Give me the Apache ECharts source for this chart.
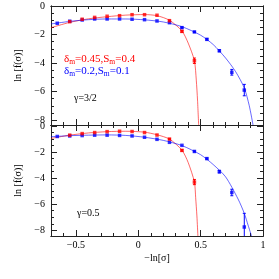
<!DOCTYPE html>
<html><head><meta charset="utf-8">
<script src="https://cdn.jsdelivr.net/npm/echarts@6/dist/echarts.min.js"></script>
<style>html,body{margin:0;padding:0;background:#fff}#c{width:279px;height:279px}</style>
</head><body><div id="c"></div>
<script>
// ---- data ----
const xBlue = [-0.65,-0.55,-0.45,-0.35,-0.25,-0.15,-0.05,0.05,0.15,0.25,0.35,0.45,0.55,0.65,0.75,0.85];
const xRed  = [-0.55,-0.45,-0.35,-0.25,-0.15,-0.05,0.05,0.15,0.25,0.35,0.45];

// top panel (gamma = 3/2)
const topBlue    = [-1.21,-1.07,-0.98,-0.91,-0.91,-0.91,-0.93,-0.96,-1.05,-1.17,-1.52,-1.82,-2.34,-3.14,-4.65,-5.9];
const topBlueErr = [0,0,0,0,0,0,0,0,0,0,0.04,0.04,0.05,0.07,0.2,0.4];
const topRed     = [-1.1,-0.93,-0.8,-0.72,-0.68,-0.61,-0.61,-0.65,-1.03,-1.78,-3.84];
const topRedErr  = [0,0,0,0,0,0,0,0,0.03,0.06,0.19];
const topRedFitX  = [-0.7,-0.55,-0.4,-0.25,-0.1,0.05,0.15,0.25,0.35,0.4,0.45,0.465,0.475,0.484];
const topRedFitY  = [-1.52,-1.15,-0.9,-0.75,-0.64,-0.6,-0.68,-1.0,-1.75,-2.6,-3.84,-5.2,-6.6,-8.35];
const topBlueFitX = [-0.7,-0.55,-0.4,-0.25,-0.1,0.05,0.2,0.35,0.5,0.6,0.7,0.78,0.85,0.89,0.92];
const topBlueFitY = [-1.26,-1.08,-0.96,-0.91,-0.91,-0.97,-1.12,-1.45,-2.05,-2.7,-3.65,-4.6,-5.75,-7.0,-8.35];

// bottom panel (gamma = 0.5)
const botBlue    = [-0.8,-0.76,-0.73,-0.7,-0.7,-0.72,-0.76,-0.86,-1.02,-1.25,-1.48,-1.95,-2.5,-3.5,-5.1,-7.75];
const botBlueErr = [0,0,0,0,0,0,0,0,0,0,0,0.04,0.05,0.1,0.25,1.05];
const botRed     = [-0.7,-0.58,-0.5,-0.43,-0.4,-0.42,-0.5,-0.69,-1.0,-1.87,-4.3];
const botRedErr  = [0,0,0,0,0,0,0,0,0.03,0.06,0.2];
const botRedFitX  = [-0.7,-0.55,-0.4,-0.25,-0.1,0.05,0.15,0.25,0.35,0.4,0.45,0.46,0.47,0.478];
const botRedFitY  = [-0.95,-0.7,-0.53,-0.43,-0.4,-0.47,-0.67,-1.0,-1.85,-2.8,-4.3,-5.5,-6.9,-8.44];
const botBlueFitX = [-0.7,-0.55,-0.4,-0.25,-0.1,0.05,0.2,0.35,0.5,0.6,0.7,0.8,0.85,0.88,0.908];
const botBlueFitY = [-0.82,-0.74,-0.7,-0.68,-0.72,-0.86,-1.1,-1.5,-2.2,-2.95,-3.9,-5.6,-6.7,-7.6,-8.44];

// ticks
const xMajor = [-0.5,0,0.5,1];
const xMinor = [-0.6,-0.5,-0.4,-0.3,-0.2,-0.1,0,0.1,0.2,0.3,0.4,0.5,0.6,0.7,0.8,0.9];
const yMajor = [-8,-6,-4,-2,0];
const yMinor = [-8,-7.5,-7,-6.5,-6,-5.5,-5,-4.5,-4,-3.5,-3,-2.5,-2,-1.5,-1,-0.5,0];

// ---- chart ----
const FONT = 'Liberation Serif';
const AX = '#222';
const RED = '#ff0000', BLUE = '#0000ff';
const minus = v => String(v).replace('-', '\u2212');

const grids = [
  {left:51, width:212, top:6, height:119, ymin:-8.35, ymax:0},
  {left:51, width:212, top:125, height:111, ymin:-8.44, ymax:0.08}
];

const xAxes = [], yAxes = [];
grids.forEach((g, gi) => {
  const isBottom = gi === 1;
  const baseX = {gridIndex:gi, type:'value', min:-0.7, max:1, splitLine:{show:false},
    axisLine:{show:true, onZero:false, lineStyle:{color:AX, width:1}}};
  xAxes.push(Object.assign({}, baseX, {position:'bottom',
    axisTick:{show:true, inside:true, length:6, customValues:xMajor, lineStyle:{color:AX}},
    axisLabel:{show:isBottom, customValues:xMajor, margin:4, fontFamily:FONT, fontSize:10, color:'#000', formatter:minus},
    name: isBottom ? '\u2212ln[\u03c3]' : '', nameLocation:'middle', nameGap:17,
    nameTextStyle:{fontFamily:FONT, fontSize:10, color:'#000'}}));
  xAxes.push(Object.assign({}, baseX, {position:'bottom',
    axisTick:{show:true, inside:true, length:3, customValues:xMinor, lineStyle:{color:AX}},
    axisLabel:{show:false}}));
  xAxes.push(Object.assign({}, baseX, {position:'top',
    axisTick:{show:true, inside:true, length:6, customValues:xMajor, lineStyle:{color:AX}},
    axisLabel:{show:false}}));
  xAxes.push(Object.assign({}, baseX, {position:'top',
    axisTick:{show:true, inside:true, length:3, customValues:xMinor, lineStyle:{color:AX}},
    axisLabel:{show:false}}));

  const baseY = {gridIndex:gi, type:'value', min:g.ymin, max:g.ymax, splitLine:{show:false},
    axisLine:{show:true, onZero:false, lineStyle:{color:AX, width:1}}};
  yAxes.push(Object.assign({}, baseY, {position:'left',
    axisTick:{show:true, inside:true, length:6, customValues:yMajor, lineStyle:{color:AX}},
    axisLabel:{show:true, customValues:yMajor, margin:6, fontFamily:FONT, fontSize:10, color:'#000', formatter:minus},
    name:'ln [f(\u03c3)]', nameLocation:'middle', nameGap:22, nameRotate:90,
    nameTextStyle:{fontFamily:FONT, fontSize:10, color:'#000'}}));
  yAxes.push(Object.assign({}, baseY, {position:'left',
    axisTick:{show:true, inside:true, length:3, customValues:yMinor, lineStyle:{color:AX}},
    axisLabel:{show:false}}));
  yAxes.push(Object.assign({}, baseY, {position:'right',
    axisTick:{show:true, inside:true, length:6, customValues:yMajor, lineStyle:{color:AX}},
    axisLabel:{show:false}}));
  yAxes.push(Object.assign({}, baseY, {position:'right',
    axisTick:{show:true, inside:true, length:3, customValues:yMinor, lineStyle:{color:AX}},
    axisLabel:{show:false}}));
});

function zip(xs, ys){ return xs.map((x,i)=>[x, ys[i]]); }
function errData(xs, ys, es){
  const out = [];
  xs.forEach((x,i)=>{ if (es[i] > 0) out.push([x, ys[i]-es[i], ys[i]+es[i]]); });
  return out;
}
function errRender(color){
  return function(params, api){
    const x = api.value(0), lo = api.value(1), hi = api.value(2);
    const a = api.coord([x, hi]), b = api.coord([x, lo]);
    const w = 1.5, st = {stroke:color, lineWidth:1};
    return {type:'group', children:[
      {type:'line', shape:{x1:a[0], y1:a[1], x2:b[0], y2:b[1]}, style:st},
      {type:'line', shape:{x1:a[0]-w, y1:a[1], x2:a[0]+w, y2:a[1]}, style:st},
      {type:'line', shape:{x1:b[0]-w, y1:b[1], x2:b[0]+w, y2:b[1]}, style:st}
    ]};
  };
}

const panels = [
  {blue:topBlue, blueErr:topBlueErr, red:topRed, redErr:topRedErr,
   rfx:topRedFitX, rfy:topRedFitY, bfx:topBlueFitX, bfy:topBlueFitY},
  {blue:botBlue, blueErr:botBlueErr, red:botRed, redErr:botRedErr,
   rfx:botRedFitX, rfy:botRedFitY, bfx:botBlueFitX, bfy:botBlueFitY}
];

const series = [];
panels.forEach((p, gi) => {
  const xi = gi*4, yi = gi*4;
  series.push({type:'line', xAxisIndex:xi, yAxisIndex:yi, data:zip(p.rfx, p.rfy), smooth:0.25,
    showSymbol:false, lineStyle:{color:RED, width:0.8, opacity:0.75}, clip:true, z:2, silent:true});
  series.push({type:'line', xAxisIndex:xi, yAxisIndex:yi, data:zip(p.bfx, p.bfy), smooth:0.25,
    showSymbol:false, lineStyle:{color:BLUE, width:0.8, opacity:0.75}, clip:true, z:2, silent:true});
  series.push({type:'custom', xAxisIndex:xi, yAxisIndex:yi, data:errData(xRed, p.red, p.redErr),
    renderItem:errRender(RED), encode:{x:0, y:[1,2]}, clip:true, z:3, silent:true});
  series.push({type:'custom', xAxisIndex:xi, yAxisIndex:yi, data:errData(xBlue, p.blue, p.blueErr),
    renderItem:errRender(BLUE), encode:{x:0, y:[1,2]}, clip:true, z:3, silent:true});
  series.push({type:'scatter', xAxisIndex:xi, yAxisIndex:yi, data:zip(xBlue, p.blue), symbol:'rect',
    symbolSize:3.5, itemStyle:{color:BLUE}, z:4, silent:true});
  series.push({type:'scatter', xAxisIndex:xi, yAxisIndex:yi, data:zip(xRed, p.red), symbol:'rect',
    symbolSize:3.5, itemStyle:{color:RED}, z:4, silent:true});
});

const rich = c => ({
  d:{fontFamily:FONT, fontSize:11, fill:c, color:c},
  s:{fontFamily:FONT, fontSize:7.5, fill:c, color:c, verticalAlign:'bottom', padding:[6,0,0,0]}
});

const chart = echarts.init(document.getElementById('c'), null, {renderer:'canvas'});
chart.setOption({
  animation:false,
  backgroundColor:'#fff',
  grid: grids.map(g => ({left:g.left, width:g.width, top:g.top, height:g.height, containLabel:false})),
  xAxis: xAxes,
  yAxis: yAxes,
  series: series,
  graphic: [
    {type:'text', left:64, top:54, z:10, style:{
      text:'{d|\u03b4}{s|m}{d|=0.45,S}{s|m}{d|=0.4}', rich:rich(RED), fill:RED}},
    {type:'text', left:64, top:66, z:10, style:{
      text:'{d|\u03b4}{s|m}{d|=0.2,S}{s|m}{d|=0.1}', rich:rich(BLUE), fill:BLUE}},
    {type:'text', left:74, top:93, z:10, style:{text:'\u03b3=3/2', fontFamily:FONT, fontSize:10, fill:'#000'}},
    {type:'text', left:77, top:208, z:10, style:{text:'\u03b3=0.5', fontFamily:FONT, fontSize:10, fill:'#000'}}
  ]
});
</script>
</body></html>
